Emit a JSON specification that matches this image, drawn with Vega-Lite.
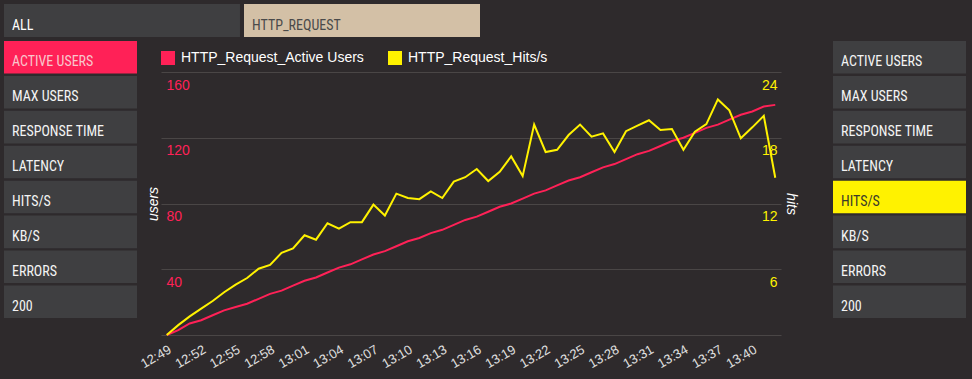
{
  "$schema": "https://vega.github.io/schema/vega-lite/v6.json",
  "background": "#2e2a2c",
  "padding": {"left": 4, "top": 4, "right": 6, "bottom": 11},
  "usermeta": {"embedOptions": {"actions": false}},
  "config": {"view": {"stroke": null}, "font": "Liberation Sans"},
  "columns": 4,
  "spacing": {"row": 4, "column": 24},
  "bounds": "flush",
  "align": "each",
  "resolve": {"scale": {"color": "independent"}, "legend": {"color": "independent"}},
  "datasets": {
    "tabs": [
      {"tab": "ALL", "state": "idle"},
      {"tab": "HTTP_REQUEST", "state": "selected"}
    ],
    "left": [
      {"panel": "left", "label": "ACTIVE USERS", "state": "red"},
      {"panel": "left", "label": "MAX USERS", "state": "idle"},
      {"panel": "left", "label": "RESPONSE TIME", "state": "idle"},
      {"panel": "left", "label": "LATENCY", "state": "idle"},
      {"panel": "left", "label": "HITS/S", "state": "idle"},
      {"panel": "left", "label": "KB/S", "state": "idle"},
      {"panel": "left", "label": "ERRORS", "state": "idle"},
      {"panel": "left", "label": "200", "state": "idle"}
    ],
    "right": [
      {"panel": "right", "label": "ACTIVE USERS", "state": "idle"},
      {"panel": "right", "label": "MAX USERS", "state": "idle"},
      {"panel": "right", "label": "RESPONSE TIME", "state": "idle"},
      {"panel": "right", "label": "LATENCY", "state": "idle"},
      {"panel": "right", "label": "HITS/S", "state": "yellow"},
      {"panel": "right", "label": "KB/S", "state": "idle"},
      {"panel": "right", "label": "ERRORS", "state": "idle"},
      {"panel": "right", "label": "200", "state": "idle"}
    ],
    "series": [
      {"t":"12:49","users":0,"hits":0},
      {"t":"12:50","users":3,"hits":0.9},
      {"t":"12:51","users":7,"hits":1.7},
      {"t":"12:52","users":9,"hits":2.4},
      {"t":"12:53","users":12,"hits":3.1},
      {"t":"12:54","users":15,"hits":3.9},
      {"t":"12:55","users":17,"hits":4.6},
      {"t":"12:56","users":19,"hits":5.2},
      {"t":"12:57","users":22,"hits":6.05},
      {"t":"12:58","users":25,"hits":6.4},
      {"t":"12:59","users":27,"hits":7.5},
      {"t":"13:00","users":30,"hits":7.9},
      {"t":"13:01","users":33,"hits":9.1},
      {"t":"13:02","users":35,"hits":8.7},
      {"t":"13:03","users":38,"hits":10.2},
      {"t":"13:04","users":41,"hits":9.7},
      {"t":"13:05","users":43,"hits":10.3},
      {"t":"13:06","users":46,"hits":10.3},
      {"t":"13:07","users":49,"hits":11.9},
      {"t":"13:08","users":51,"hits":10.9},
      {"t":"13:09","users":54,"hits":12.9},
      {"t":"13:10","users":57,"hits":12.5},
      {"t":"13:11","users":59,"hits":12.4},
      {"t":"13:12","users":62,"hits":13.1},
      {"t":"13:13","users":64,"hits":12.5},
      {"t":"13:14","users":67,"hits":14.0},
      {"t":"13:15","users":70,"hits":14.4},
      {"t":"13:16","users":72,"hits":15.15},
      {"t":"13:17","users":75,"hits":14.05},
      {"t":"13:18","users":78,"hits":14.9},
      {"t":"13:19","users":80,"hits":16.3},
      {"t":"13:20","users":83,"hits":14.5},
      {"t":"13:21","users":86,"hits":19.2},
      {"t":"13:22","users":88,"hits":16.7},
      {"t":"13:23","users":91,"hits":16.9},
      {"t":"13:24","users":94,"hits":18.25},
      {"t":"13:25","users":96,"hits":19.2},
      {"t":"13:26","users":99,"hits":18.1},
      {"t":"13:27","users":102,"hits":18.4},
      {"t":"13:28","users":104,"hits":16.7},
      {"t":"13:29","users":107,"hits":18.6},
      {"t":"13:30","users":110,"hits":19.1},
      {"t":"13:31","users":112,"hits":19.6},
      {"t":"13:32","users":115,"hits":18.7},
      {"t":"13:33","users":118,"hits":18.8},
      {"t":"13:34","users":120,"hits":16.9},
      {"t":"13:35","users":123,"hits":18.55},
      {"t":"13:36","users":126,"hits":19.25},
      {"t":"13:37","users":128,"hits":21.5},
      {"t":"13:38","users":131,"hits":20.5},
      {"t":"13:39","users":134,"hits":17.95},
      {"t":"13:40","users":136,"hits":18.95},
      {"t":"13:41","users":139,"hits":20.0},
      {"t":"13:42","users":140,"hits":14.35}
    ]
  },
  "concat": [
    {
      "width": 133, "height": 33,
      "data": {"name": "tabs"},
      "layer": [
        {
          "mark": {"type": "rect"},
          "encoding": {
            "x": {"field": "tab", "type": "nominal", "sort": null, "scale": {"range": [0, 476], "paddingInner": 0.01667, "paddingOuter": 0}, "axis": null},
            "fill": {"condition": {"test": "datum.state === 'selected'", "value": "#d3c0a6"}, "value": "#3f3f41"}
          }
        },
        {
          "mark": {"type": "text", "align": "left", "baseline": "middle", "dx": 8, "dy": 5, "font": "Liberation Sans Narrow, Roboto Condensed, DejaVu Sans Condensed, Liberation Sans", "fontSize": 14},
          "encoding": {
            "x": {"field": "tab", "type": "nominal", "sort": null, "bandPosition": 0},
            "text": {"field": "tab"},
            "color": {"condition": {"test": "datum.state === 'selected'", "value": "#4a4a4a"}, "value": "#ffffff"}
          }
        }
      ]
    },
    {"width": 1, "height": 1, "data": {"values": []}, "mark": "point"},
    {"width": 1, "height": 1, "data": {"values": []}, "mark": "point"},
    {"width": 1, "height": 1, "data": {"values": []}, "mark": "point"},
    {
      "width": 133, "height": 277,
      "data": {"name": "left"},
      "layer": [
        {
          "mark": {"type": "rect"},
          "encoding": {
            "x": {"field": "panel", "type": "nominal", "scale": {"paddingInner": 0, "paddingOuter": 0}, "axis": null},
            "y": {"field": "label", "type": "nominal", "sort": null, "scale": {"paddingInner": 0.066, "paddingOuter": 0}, "axis": null},
            "fill": {"condition": {"test": "datum.state === 'red'", "value": "#ff2157"}, "value": "#3f3f41"}
          }
        },
        {
          "mark": {"type": "text", "align": "left", "baseline": "middle", "dx": 8, "dy": 5, "font": "Liberation Sans Narrow, Roboto Condensed, DejaVu Sans Condensed, Liberation Sans", "fontSize": 14},
          "encoding": {
            "x": {"field": "panel", "type": "nominal", "bandPosition": 0},
            "y": {"field": "label", "type": "nominal", "sort": null},
            "text": {"field": "label"},
            "color": {"condition": {"test": "datum.state === 'red'", "value": "#f9c6cc"}, "value": "#f4f4f4"}
          }
        }
      ]
    },
    {
      "width": 620, "height": 294,
      "data": {"name": "series"},
      "encoding": {
        "x": {
          "field": "t", "type": "ordinal", "sort": null,
          "scale": {"type": "point", "padding": 0.5},
          "axis": {
            "title": null, "domain": false, "ticks": false, "tickSize": 0, "grid": false,
            "values": ["12:49","12:52","12:55","12:58","13:01","13:04","13:07","13:10","13:13","13:16","13:19","13:22","13:25","13:28","13:31","13:34","13:37","13:40"],
            "labelAngle": -30, "labelAlign": "right", "labelBaseline": "top", "labelPadding": 8,
            "labelColor": "#e0e0e0", "labelFont": "Liberation Sans", "labelFontSize": 13
          }
        }
      },
      "layer": [
        {
          "mark": {"type": "line", "strokeWidth": 2},
          "encoding": {
            "y": {
              "field": "users", "type": "quantitative",
              "scale": {"domain": [0, 178.86], "nice": false},
              "axis": {
                "orient": "left", "values": [0, 40, 80, 120, 160],
                "labelExpr": "datum.value == 0 ? '' : datum.label",
                "grid": true, "gridColor": "#4a4646", "gridWidth": 1,
                "domain": false, "ticks": false, "tickSize": 0,
                "labelAlign": "left", "labelBaseline": "top", "labelPadding": -5, "labelOffset": 6, "labelFlush": false,
                "labelColor": "#ff2157", "labelFont": "Liberation Sans", "labelFontSize": 14,
                "title": "users", "titleColor": "#ffffff", "titleFont": "Liberation Sans", "titleFontSize": 14,
                "titleFontStyle": "italic", "titleFontWeight": "normal", "titleAngle": -90,
                "titleX": -4, "titleY": 162.5, "titleBaseline": "alphabetic", "titleAlign": "center"
              }
            },
            "color": {
              "datum": "HTTP_Request_Active Users", "type": "nominal",
              "scale": {"domain": ["HTTP_Request_Active Users", "HTTP_Request_Hits/s"], "range": ["#ff2157", "#fff200"]},
              "legend": {
                "orient": "none", "legendX": 0, "legendY": 10, "direction": "horizontal", "title": null,
                "symbolType": "square", "symbolSize": 196, "symbolStrokeWidth": 0,
                "labelFont": "Liberation Sans", "labelFontSize": 14, "labelColor": "#ffffff", "labelLimit": 400,
                "labelOffset": 6, "columnPadding": 24,
                "encode": {"symbols": {"update": {"fill": {"signal": "datum.value === 'HTTP_Request_Hits/s' ? '#fff200' : '#ff2157'"}, "fillOpacity": {"value": 1}, "strokeWidth": {"value": 0}}}}
              }
            }
          }
        },
        {
          "mark": {"type": "line", "strokeWidth": 2},
          "encoding": {
            "y": {
              "field": "hits", "type": "quantitative",
              "scale": {"domain": [0, 26.83], "nice": false},
              "axis": {
                "orient": "right", "values": [0, 6, 12, 18, 24],
                "labelExpr": "datum.value == 0 ? '' : datum.label",
                "grid": false, "domain": false, "ticks": false, "tickSize": 0,
                "labelAlign": "right", "labelBaseline": "top", "labelPadding": -4, "labelOffset": 6, "labelFlush": false,
                "labelColor": "#fff200", "labelFont": "Liberation Sans", "labelFontSize": 14,
                "title": "hits", "titleColor": "#ffffff", "titleFont": "Liberation Sans", "titleFontSize": 14,
                "titleFontStyle": "italic", "titleFontWeight": "normal", "titleAngle": 90,
                "titleX": 5, "titleY": 162.5, "titleBaseline": "alphabetic", "titleAlign": "center"
              }
            },
            "color": {"datum": "HTTP_Request_Hits/s", "type": "nominal"}
          }
        }
      ],
      "resolve": {"scale": {"y": "independent"}, "axis": {"y": "independent"}}
    },
    {"width": 4, "height": 1, "data": {"values": []}, "mark": "point"},
    {
      "width": 133, "height": 277,
      "data": {"name": "right"},
      "layer": [
        {
          "mark": {"type": "rect"},
          "encoding": {
            "x": {"field": "panel", "type": "nominal", "scale": {"paddingInner": 0, "paddingOuter": 0}, "axis": null},
            "y": {"field": "label", "type": "nominal", "sort": null, "scale": {"paddingInner": 0.066, "paddingOuter": 0}, "axis": null},
            "fill": {"condition": {"test": "datum.state === 'yellow'", "value": "#fff200"}, "value": "#3f3f41"}
          }
        },
        {
          "mark": {"type": "text", "align": "left", "baseline": "middle", "dx": 8, "dy": 5, "font": "Liberation Sans Narrow, Roboto Condensed, DejaVu Sans Condensed, Liberation Sans", "fontSize": 14},
          "encoding": {
            "x": {"field": "panel", "type": "nominal", "bandPosition": 0},
            "y": {"field": "label", "type": "nominal", "sort": null},
            "text": {"field": "label"},
            "color": {"condition": {"test": "datum.state === 'yellow'", "value": "#3a3a2a"}, "value": "#f4f4f4"}
          }
        }
      ]
    }
  ]
}
